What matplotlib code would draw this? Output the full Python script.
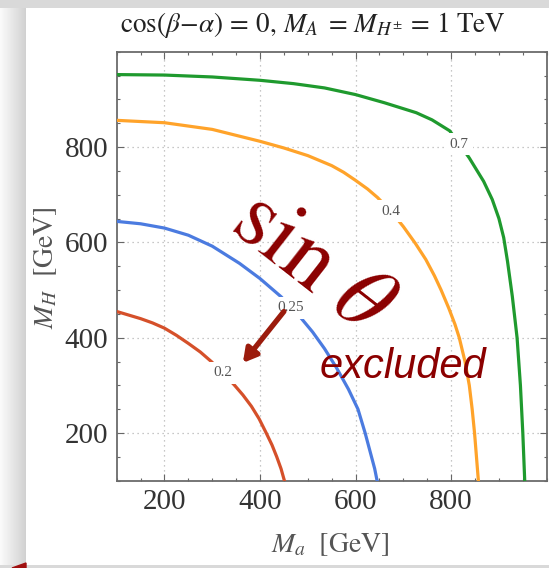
import numpy as np
import matplotlib
matplotlib.use("Agg")
import matplotlib.pyplot as plt
from matplotlib.patches import Polygon
from matplotlib.ticker import MultipleLocator

plt.rcParams["mathtext.fontset"] = "stix"

# sin(theta) exclusion contours in the (M_a, M_H) plane [GeV]
RED_MA = [100, 150, 175, 200, 225, 250, 275, 298, 322, 346, 364, 382, 398, 413, 425, 435, 444, 451]
RED_MH = [455, 440, 431, 420, 405, 388, 370, 350, 326, 301, 280, 256, 230, 200, 175, 150, 125, 100]

BLUE_MA = [100, 150, 200, 250, 300, 357, 400, 444, 465, 486, 510, 535, 560, 585, 605, 620, 632, 640, 645]
BLUE_MH = [644, 639, 630, 615, 592, 556, 524, 486, 464, 441, 412, 377, 337, 292, 250, 200, 155, 125, 100]

ORANGE_MA = [100, 200, 300, 400, 450, 500, 550, 575, 600, 625, 646, 675, 700, 725, 747,
             765, 779, 795, 808, 817, 829, 838, 844, 849, 853, 857]
ORANGE_MH = [856, 851, 837, 812, 798, 782, 761, 747, 730, 712, 694, 664, 633, 598, 564,
             530, 500, 462, 428, 400, 350, 300, 250, 200, 150, 100]

GREEN_MA = [100, 200, 300, 400, 470, 535, 600, 660, 727, 760, 797, 817, 838, 868, 886,
            900, 910, 918, 928, 938, 945, 950, 954]
GREEN_MH = [952, 951, 947, 940, 933, 924, 910, 893, 872, 857, 834, 807, 777, 728, 690,
            650, 610, 560, 487, 400, 300, 200, 100]

LEVELS = ["0.2", "0.25", "0.4", "0.7"]
TICKS = [200, 400, 600, 800]

W, H = 549, 568
fig = plt.figure(figsize=(W / 100, H / 100), dpi=100)

# slide box with a soft grey shadow round it
bg = fig.add_axes([0, 0, 1, 1])
bg.set_zorder(-1)
bg.set_axis_off()
shade = np.ones((H, W))
shade[:, :26] = np.linspace(0.98, 0.82, 26)
shade[:8, :] = 0.85
shade[565:, :] = 0.85
bg.imshow(shade, cmap="gray", vmin=0, vmax=1, extent=(0, W, H, 0),
          aspect="auto", interpolation="bilinear")
bg.add_patch(Polygon([(12, 568), (26, 563), (26, 568)], color="#a01010"))
bg.set_xlim(0, W)
bg.set_ylim(H, 0)

ax = fig.add_axes([116.7 / W, 87.3 / H, 430 / W, 429 / H])
ax.set_xlim(100, 1000)
ax.set_ylim(100, 1000)

curves = [
    (RED_MA, RED_MH, "#d5502a", (322, 326)),
    (BLUE_MA, BLUE_MH, "#4b7be0", (465, 463)),
    (ORANGE_MA, ORANGE_MH, "#ffa32a", (674, 665)),
    (GREEN_MA, GREEN_MH, "#1f9a2e", (817, 806)),
]
for (xs, ys, col, (lx, ly)), lev in zip(curves, LEVELS):
    ax.plot(xs, ys, color=col, lw=2.3, zorder=3, solid_joinstyle="round")
    ax.text(lx, ly, lev, ha="center", va="center", fontsize=11,
            family="Liberation Serif", color="#555555", zorder=4,
            bbox=dict(boxstyle="square,pad=0.3", fc="white", ec="none"))

ax.set_xticks(TICKS)
ax.set_yticks(TICKS)
ax.xaxis.set_minor_locator(MultipleLocator(50))
ax.yaxis.set_minor_locator(MultipleLocator(50))
ax.grid(True, which="major", ls=(0, (1, 3)), color="#b5b5b5", lw=0.9)
ax.tick_params(which="both", direction="in", top=True, right=True,
               color="#666666", width=0.8)
ax.tick_params(which="major", length=5, labelsize=21, labelcolor="#333333", pad=6)
ax.tick_params(which="minor", length=2.5)
for lab in ax.get_xticklabels() + ax.get_yticklabels():
    lab.set_family("Liberation Serif")
for sp in ax.spines.values():
    sp.set_color("#6b6b6b")
    sp.set_linewidth(1.3)

# annotation drawn over the contours
ax.text(512, 560, r"$\sin\,\theta$", fontsize=66, rotation=-38,
        rotation_mode="anchor", ha="center", va="center", color="#8b0000", zorder=5)
ax.text(700, 316, "excluded", fontsize=30, style="italic", family="Liberation Sans",
        ha="center", va="baseline", color="#8b0000", zorder=5)
ax.annotate("", xy=(364, 347), xytext=(450, 455), zorder=5,
            arrowprops=dict(arrowstyle="-|>,head_length=0.8,head_width=0.45",
                            lw=3.8, color="#9b1b0c", shrinkA=0, shrinkB=0))

fig.text(313 / W, 1 - 32 / H,
         r"$\cos(\beta\!-\!\alpha)\,=\,0,\,M_A\;=\,M_{H^{\pm}}\,=\,1\ \mathrm{TeV}$",
         ha="center", va="baseline", fontsize=19.5, color="#222222")
fig.text(330 / W, 1 - 552 / H, r"$M_a\ \ [\mathrm{GeV}]$",
         ha="center", va="baseline", fontsize=20, color="#555555")
fig.text(45 / W, 1 - 268 / H, r"$M_H\ \ [\mathrm{GeV}]$", rotation=90,
         ha="center", va="center", fontsize=20, color="#555555")

fig.savefig("out.png", dpi=100)
